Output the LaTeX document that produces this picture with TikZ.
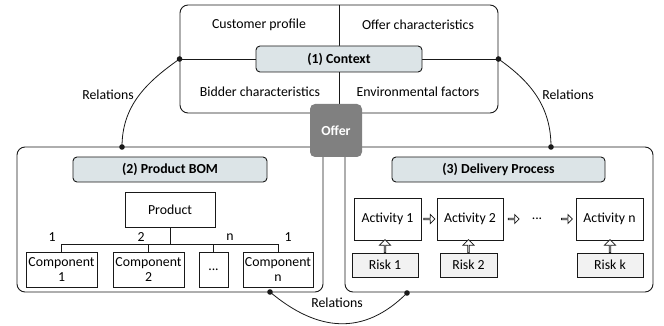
\documentclass[tikz,border=0pt]{standalone}
\usepackage{fontspec}
\setmainfont{Carlito}
\usetikzlibrary{shapes.arrows}
\definecolor{light}{RGB}{220, 228, 231}
\definecolor{pale}{RGB}{242, 242, 242}
\definecolor{mid}{RGB}{128, 128, 128}
\definecolor{ink}{RGB}{25, 25, 25}
\newcommand{\figfont}{\fontsize{13.8}{15}\selectfont}

\tikzset{
  frame/.style={draw=ink, line width=0.9, rounded corners=8},
  title/.style={draw=ink, line width=0.9, fill=light, rounded corners=4, font=\figfont\bfseries},
  box/.style={draw=ink, line width=0.9, fill=white, inner sep=0, align=center},
  riskbox/.style={box, fill=pale},
  link/.style={ink, line width=0.8},
  uparr/.style={single arrow, draw=ink, fill=white, line width=0.7, inner sep=0,
    minimum width=11, single arrow head extend=2.5, minimum height=13, sloped},
  rightarr/.style={single arrow, draw=ink, fill=white, line width=0.7, inner sep=0,
    minimum width=9, single arrow head extend=2, minimum height=11}
}

\begin{document}
\begin{tikzpicture}[x=1pt, y=-1pt, font=\figfont]
  \useasboundingbox (0, 0) rectangle (664, 326);

  % (1) context
  \node[frame, minimum width=318, minimum height=108] (ctx) at (339, 59) {};
  \draw[link] (ctx.north) -- (ctx.south);
  \draw[link] (ctx.west) -- (ctx.east);
  \node[title, minimum width=166, minimum height=26] (ctxtitle) at (339, 59) {(1) Context};
  \node (cust) at (259, 25) {Customer profile};
  \node (offch) at (418, 25) {Offer characteristics};
  \node (bidch) at (260, 92) {Bidder characteristics};
  \node (envf) at (418, 92) {Environmental factors};

  % (2) product BOM and (3) delivery process
  \node[frame, minimum width=306, minimum height=145] (bom) at (170, 219.5) {};
  \node[frame, minimum width=308, minimum height=145] (proc) at (499, 219.5) {};

  \node[fill=mid, rounded corners=5, minimum width=52, minimum height=53,
    text=white, font=\figfont\bfseries] (offer) at (336, 130.5) {Offer};

  \node[title, minimum width=194, minimum height=25] (bomtitle) at (170, 169.5) {(2) Product BOM};
  \node[title, minimum width=213, minimum height=25] (proctitle) at (498.5, 169.5) {(3) Delivery Process};

  \node[box, minimum width=90, minimum height=35] (prod) at (170, 209.5) {Product};
  \foreach \name/\x/\w/\n in {c1/61.5/71/1, c2/148.5/71/2, cn/278/70/n} {
    \node[box, minimum width=\w, minimum height=35] (\name) at (\x, 269.5) {Component\\\n};
  }
  \node[box, minimum width=29, minimum height=35] (cdots) at (213.5, 269.5) {...};

  \coordinate (bus) at (170, 244);
  \draw[link] (prod.south) -- (bus);
  \draw[link] (c1.north) -- (c1.north |- bus) -- (cn.north |- bus) -- (cn.north);
  \foreach \name in {c2, cdots} {
    \draw[link] (\name.north) -- (\name.north |- bus);
  }
  \node (m1) at (52, 237) {1};
  \node (m2) at (141, 237) {2};
  \node (m3) at (230, 237) {n};
  \node (m4) at (288, 237) {1};

  \foreach \name/\x/\w/\n in {a1/387.5/67/1, a2/470/66/2, an/609.5/67/n} {
    \node[box, minimum width=\w, minimum height=42] (\name) at (\x, 219) {Activity \n};
  }
  \node (adots) at (537, 219) {...};
  \foreach \name/\x/\w/\n in {r1/385/66/1, r2/468.5/57/2, rk/610/66/k} {
    \node[riskbox, minimum width=\w, minimum height=24] (\name) at (\x, 265) {Risk \n};
  }
  \path (r1.north) -- node[uparr] {} (r1.north |- a1.south);
  \path (r2.north) -- node[uparr] {} (r2.north |- a2.south);
  \path (rk.north) -- node[uparr] {} (rk.north |- an.south);
  \path (a1.east) -- node[rightarr] {} (a2.west);
  \path (a2.east) -- node[rightarr, pos=0.4] {} (adots.west);
  \path (adots.east) -- node[rightarr, pos=0.7] {} (an.west);

  % relations
  \coordinate (bomtop) at (122, 147);
  \coordinate (proctop) at (551, 147);
  \coordinate (bombot) at (270, 292);
  \coordinate (procbot) at (407, 293);
  \draw[link] (ctx.west) to[out=215, in=90] (bomtop);
  \draw[link] (ctx.east) to[out=-35, in=90] (proctop);
  \draw[link] (bombot) to[out=-40, in=-135, looseness=1.15] (procbot);
  \foreach \p in {ctx.west, ctx.east, bomtop, proctop, bombot, procbot} {
    \fill[ink] (\p) circle (2.8);
  }
  \node (rel1) at (108, 95) {Relations};
  \node (rel2) at (568, 95) {Relations};
  \node (rel3) at (337, 303) {Relations};
\end{tikzpicture}
\end{document}
